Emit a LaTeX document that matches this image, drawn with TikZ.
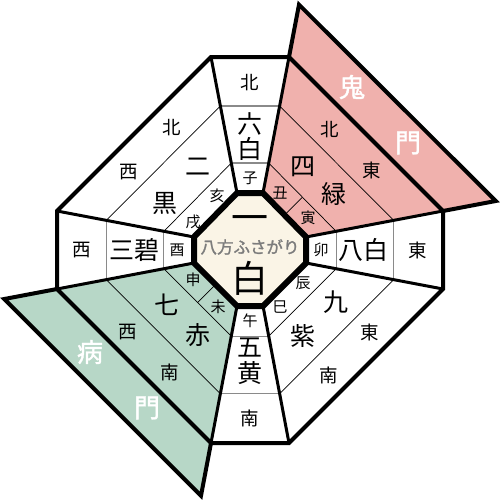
\documentclass[tikz,border=0pt]{standalone}
\usepackage{fontspec}
\newfontfamily\jp[AutoFakeBold=1.5]{Noto Sans CJK JP}
\usetikzlibrary{calc}
\definecolor{kimon}{HTML}{F0B1AD}
\definecolor{byomon}{HTML}{B7D7C7}
\definecolor{cream}{HTML}{FAF4E6}
\definecolor{ringgray}{HTML}{8A8A8A}
\begin{document}
\begin{tikzpicture}[x=1pt,y=-1pt,font=\jp,
  dirlbl/.style={inner sep=0pt,font=\jp\fontsize{18.5}{18.5}\selectfont},
  etolbl/.style={inner sep=0pt,font=\jp\fontsize{15}{15}\selectfont},
  starlbl/.style={inner sep=0pt,font=\jp\fontsize{25}{25}\selectfont},
  centlbl/.style={inner sep=0pt,font=\jp\fontsize{37}{37}\selectfont},
  gatelbl/.style={inner sep=0pt,text=white,font=\jp\bfseries\fontsize{26}{26}\selectfont},
  graylbl/.style={inner sep=0pt,text=ringgray!90!black,font=\jp\bfseries\fontsize{16.5}{16.5}\selectfont},
  cardring/.style={draw=ringgray,line width=1.2pt},
  diagring/.style={draw=black,line width=0.7pt},
  sectorline/.style={draw=black,line width=3pt},
  outerline/.style={draw=black,line width=4pt,line join=miter},
  innerline/.style={draw=black,line width=6pt,line join=miter}]
\useasboundingbox (0,0) rectangle (500,501);
% inner octagon
\coordinate (I1) at (237,193);
\coordinate (I2) at (263,193);
\coordinate (I3) at (306,237);
\coordinate (I4) at (306,263);
\coordinate (I5) at (263,306);
\coordinate (I6) at (237,306);
\coordinate (I7) at (194,263);
\coordinate (I8) at (194,237);
% outer octagon
\coordinate (O1) at (211,57);
\coordinate (O2) at (289,57);
\coordinate (O3) at (443,211);
\coordinate (O4) at (443,289);
\coordinate (O5) at (289,443);
\coordinate (O6) at (211,443);
\coordinate (O7) at (57,289);
\coordinate (O8) at (57,211);
\foreach \k in {1,...,8}{
  \coordinate (A\k) at ($(I\k)!0.22!(O\k)$);
  \coordinate (B\k) at ($(I\k)!0.64!(O\k)$);
}
\coordinate (P1) at ($(I2)!1.385!(O2)$);
\coordinate (P2) at ($(I3)!1.385!(O3)$);
\coordinate (G1) at ($(I7)!1.385!(O7)$);
\coordinate (G2) at ($(I6)!1.385!(O6)$);
% fills
\fill[white] (O1) -- (O2) -- (O3) -- (O4) -- (O5) -- (O6) -- (O7) -- (O8) -- cycle;
\fill[kimon] (I2) -- (P1) -- (P2) -- (I3) -- cycle;
\fill[byomon] (I6) -- (I7) -- (G1) -- (G2) -- cycle;
% ring lines
\draw[cardring] (A1) -- (A2) (B1) -- (B2);
\draw[cardring] (A3) -- (A4) (B3) -- (B4);
\draw[cardring] (A5) -- (A6) (B5) -- (B6);
\draw[cardring] (A7) -- (A8) (B7) -- (B8);
\draw[diagring] (A2) -- (A3) (B2) -- (B3);
\draw[diagring] (A4) -- (A5) (B4) -- (B5);
\draw[diagring] (A6) -- (A7) (B6) -- (B7);
\draw[diagring] (A8) -- (A1) (B8) -- (B1);
% dividers of the two-branch cells
\draw[diagring] ($(I2)!0.5!(I3)$) -- ($(A2)!0.5!(A3)$);
\draw[diagring] ($(I6)!0.5!(I7)$) -- ($(A6)!0.5!(A7)$);
% sector boundaries
\foreach \k in {1,...,8}{ \draw[sectorline] (I\k) -- (O\k); }
% outer outline and gate outlines
\draw[outerline] (O1) -- (O2) -- (O3) -- (O4) -- (O5) -- (O6) -- (O7) -- (O8) -- cycle;
\draw[outerline] (O2) -- (P1) -- (P2) -- (O3);
\draw[outerline] (O7) -- (G1) -- (G2) -- (O6);
% centre
\filldraw[fill=cream,innerline] (I1) -- (I2) -- (I3) -- (I4) -- (I5) -- (I6) -- (I7) -- (I8) -- cycle;
% texts: north
\node[dirlbl] (tN) at (250,83) {北};
\node[starlbl] (tN6a) at (250,124) {六};
\node[starlbl] (tN6b) at (250,149) {白};
\node[etolbl] (tNe) at (250,178) {子};
% east
\node[etolbl] (tEe) at (321,250) {卯};
\node[starlbl] (tE8) at (363,250) {八白};
\node[dirlbl] (tE) at (418,250) {東};
% south
\node[etolbl] (tSe) at (250,321) {午};
\node[starlbl] (tS5a) at (250,348) {五};
\node[starlbl] (tS5b) at (250,373) {黄};
\node[dirlbl] (tS) at (250,418) {南};
% west
\node[dirlbl] (tW) at (82,250) {西};
\node[starlbl] (tW3) at (134,250) {三碧};
\node[etolbl] (tWe) at (177,250) {酉};
% north-west
\node[dirlbl] (tNWa) at (172,128) {北};
\node[dirlbl] (tNWb) at (129,172) {西};
\node[starlbl] (tNW2a) at (198,167) {二};
\node[starlbl] (tNW2b) at (165,203) {黒};
\node[etolbl] (tNWe1) at (217,196) {亥};
\node[etolbl] (tNWe2) at (193,222) {戌};
% north-east
\node[dirlbl] (tNEa) at (330,130) {北};
\node[dirlbl] (tNEb) at (372,170) {東};
\node[starlbl] (tNE4a) at (303,167) {四};
\node[starlbl] (tNE4b) at (334,194) {緑};
\node[etolbl] (tNEe1) at (280,193) {丑};
\node[etolbl] (tNEe2) at (308,218) {寅};
% south-east
\node[etolbl] (tSEe1) at (303,283) {辰};
\node[etolbl] (tSEe2) at (280,307) {巳};
\node[starlbl] (tSE9a) at (336,302) {九};
\node[starlbl] (tSE9b) at (303,336) {紫};
\node[dirlbl] (tSEa) at (370,332) {東};
\node[dirlbl] (tSEb) at (329,375) {南};
% south-west
\node[etolbl] (tSWe1) at (193,280) {申};
\node[etolbl] (tSWe2) at (218,307) {未};
\node[starlbl] (tSW7a) at (167,305) {七};
\node[starlbl] (tSW7b) at (198,335) {赤};
\node[dirlbl] (tSWa) at (128,332) {西};
\node[dirlbl] (tSWb) at (170,372) {南};
% gates
\node[gatelbl] (gK1) at (352,87) {鬼};
\node[gatelbl] (gK2) at (408,143) {門};
\node[gatelbl] (gB1) at (90,352) {病};
\node[gatelbl] (gB2) at (147,408) {門};
% centre texts
\node[centlbl] (c1) at (250,224) {一};
\node[graylbl] (c2) at (250,247) {八方ふさがり};
\node[centlbl] (c3) at (250,278) {白};
\end{tikzpicture}
\end{document}
